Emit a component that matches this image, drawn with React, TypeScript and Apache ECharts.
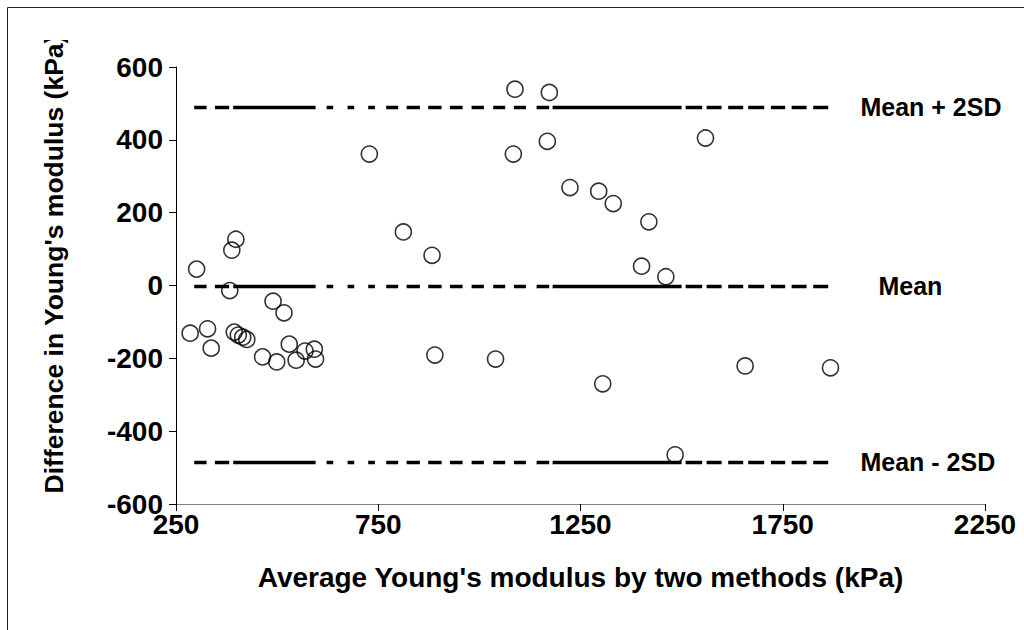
import React, { useEffect, useRef } from 'react';
import * as echarts from 'echarts';

// Average Young's modulus by two methods (kPa) — x values
const avgModulus = [
  285, 301, 328, 337, 383, 388, 398, 394, 404, 415, 425, 464, 490, 499, 517, 530, 547, 569, 592, 595,
  728, 812, 883, 890, 1040, 1084, 1088, 1168, 1173, 1224, 1295, 1305, 1331, 1401, 1419, 1461, 1484, 1559, 1657, 1868,
];
// Difference in Young's modulus (kPa) — y values
const diffModulus = [
  -131, 45, -119, -172, -14, 97, 127, -128, -136, -142, -148, -196, -43, -210, -75, -161, -205, -180, -175, -202,
  361, 147, 83, -191, -202, 361, 539, 396, 530, 269, 259, -270, 225, 53, 175, 24, -465, 405, -221, -226,
];

const limitValues = [489, -2, -486];
const limitLabels = ['Mean + 2SD', 'Mean', 'Mean - 2SD'];
const limitXRange = [295, 1863];

const xTicks = { min: 250, max: 2250, interval: 500 };
const yTicks = { min: -600, max: 600, interval: 200 };

const xTitle = "Average Young's modulus by two methods (kPa)";
const yTitle = "Difference in Young's modulus (kPa)";

// style: composite dash pattern of the limit lines (pixels)
const LIMIT_DASH = [
  12.4, 8.3, 14.3, 4, 82.4, 11, 6.6, 14.4, 6.6, 14, 6.7, 11.3, 12, 8.4, 13.3, 8.3, 13.4, 8.3, 12.7, 9, 12.3, 9.3,
  12, 8.7, 12, 10.7, 12.6, 3.4, 129, 4, 16.6, 4.4, 15, 6.6, 15, 5, 16, 6.7, 14.3, 6.4, 15, 6.6, 15, 30,
];

const FONT = "'Liberation Sans', Arial, sans-serif";

export default function App() {
  const ref = useRef<HTMLDivElement>(null);

  useEffect(() => {
    if (!ref.current) return;
    const chart = echarts.init(ref.current, undefined, { renderer: 'svg' });

    const points = avgModulus.map((x, i) => [x, diffModulus[i]]);

    const markLineData = limitValues.map((v, i) => [
      {
        coord: [limitXRange[0], v],
        lineStyle: { color: '#000', width: 3.3, type: LIMIT_DASH },
        label: {
          show: true,
          position: 'end',
          formatter: limitLabels[i],
          distance: i === 1 ? 50 : 32,
          color: '#000',
          fontSize: 25,
          fontWeight: 'bold',
          fontFamily: FONT,
          padding: [0, 0, 8, 0],
        },
      },
      { coord: [limitXRange[1], v] },
    ]);

    chart.setOption({
      animation: false,
      backgroundColor: '#fff',
      grid: { left: 176, right: 39, top: 67, bottom: 126 },
      xAxis: {
        type: 'value',
        min: xTicks.min,
        max: xTicks.max,
        interval: xTicks.interval,
        splitLine: { show: false },
        axisLine: { show: true, onZero: false, lineStyle: { color: '#808080', width: 1 } },
        axisTick: { show: true, length: 7, lineStyle: { color: '#000', width: 1 } },
        axisLabel: {
          color: '#000',
          fontSize: 28,
          fontWeight: 'bold',
          fontFamily: FONT,
          margin: 6,
          formatter: (v: number) => String(v),
        },
        name: xTitle,
        nameLocation: 'middle',
        nameGap: 59,
        nameTextStyle: { color: '#000', fontSize: 28, fontWeight: 'bold', fontFamily: FONT },
      },
      yAxis: {
        type: 'value',
        min: yTicks.min,
        max: yTicks.max,
        interval: yTicks.interval,
        splitLine: { show: false },
        axisLine: { show: true, onZero: false, lineStyle: { color: '#000', width: 1 } },
        axisTick: { show: true, length: 7, lineStyle: { color: '#000', width: 1 } },
        axisLabel: {
          color: '#000',
          fontSize: 28,
          fontWeight: 'bold',
          fontFamily: FONT,
          margin: 13,
          formatter: (v: number) => String(v),
        },
      },
      series: [
        {
          type: 'scatter',
          data: points,
          symbol: 'circle',
          symbolSize: 16,
          itemStyle: { color: 'rgba(255,255,255,0)', borderColor: '#000', borderWidth: 1.6 },
          z: 3,
          markLine: {
            silent: true,
            symbol: ['none', 'none'],
            data: markLineData,
            z: 2,
          },
        },
      ],
      graphic: [
        {
          type: 'line',
          shape: { x1: 7.5, y1: 7.5, x2: 1024, y2: 7.5 },
          style: { stroke: '#222', lineWidth: 1 },
          z: 10,
        },
        {
          type: 'line',
          shape: { x1: 7.5, y1: 7.5, x2: 7.5, y2: 630 },
          style: { stroke: '#222', lineWidth: 1 },
          z: 10,
        },
        {
          type: 'text',
          x: 54,
          y: 264,
          rotation: Math.PI / 2,
          style: {
            text: yTitle,
            fill: '#000',
            font: `bold 26.5px ${FONT}`,
            align: 'center',
            verticalAlign: 'middle',
          },
          z: 5,
        },
        {
          type: 'rect',
          shape: { x: 25, y: 9, width: 70, height: 31 },
          style: { fill: '#fff' },
          z: 6,
        },
      ],
    });

    return () => chart.dispose();
  }, []);

  return (
    <div
      ref={ref}
      style={{ position: 'absolute', left: 0, top: 0, width: 1024, height: 630 }}
    />
  );
}
